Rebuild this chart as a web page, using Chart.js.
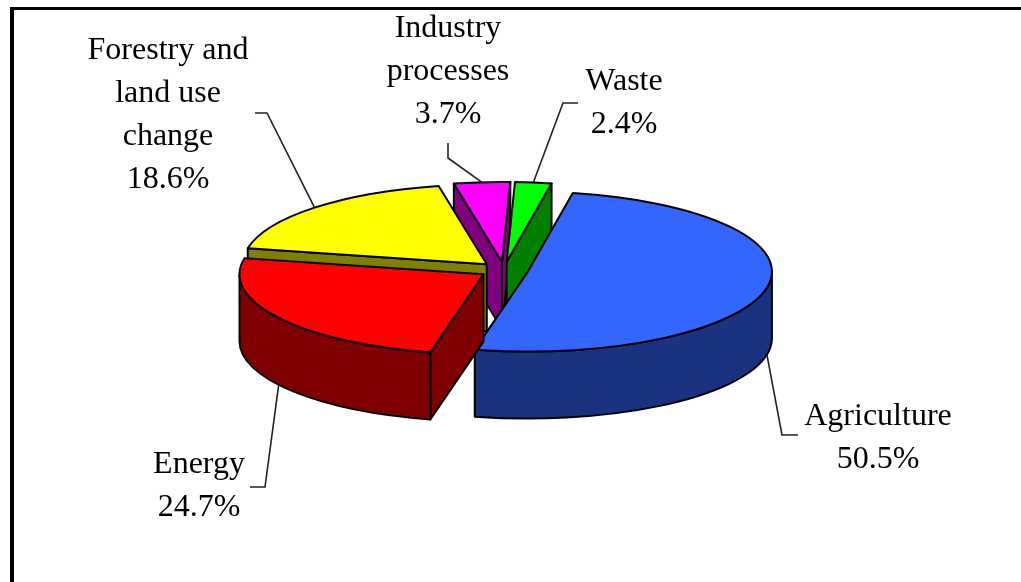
<!DOCTYPE html>
<html><head><meta charset="utf-8">
<script src="https://cdn.jsdelivr.net/npm/chart.js@4.4.0/dist/chart.umd.min.js"></script>
<style>html,body{margin:0;padding:0;background:#fff;overflow:hidden}canvas{display:block}</style>
</head><body>
<canvas id="c" width="1021" height="582"></canvas>
<script>
const categories = ['Agriculture', 'Energy', 'Forestry and land use change', 'Industry processes', 'Waste'];
const shares = [50.5, 24.7, 18.6, 3.7, 2.4];
const topColors = ['#3366FF', '#FF0000', '#FFFF00', '#FF00FF', '#00FF00'];
const sideColors = ['#1A3380', '#800000', '#808000', '#800080', '#008000'];

const PIE = { centerY: 270, squash: 80 / 244, depth: 67, explode: 0.1, rotation: 10.6 };
const LABEL_FONT = "32px 'Liberation Serif', 'Times New Roman', serif";
const LABEL_LINE = 43;
const LABEL_WRAP = 170;
const LABELS = [
  { x: 878, y: 425, leader: [[798, 435], [782, 435]] },
  { x: 199, y: 473, leader: [[250, 487], [265, 487]] },
  { x: 168, y: 59,  leader: [[255, 113], [267, 113]] },
  { x: 448, y: 37,  leader: [[448, 143], [448, 158]] },
  { x: 624, y: 90,  leader: [[578, 103], [563, 103]] }
];

function wrap(ctx, text, maxW) {
  const words = text.split(' ');
  const lines = [];
  let cur = '';
  for (const w of words) {
    const t = cur ? cur + ' ' + w : w;
    if (cur && ctx.measureText(t).width > maxW) { lines.push(cur); cur = w; }
    else cur = t;
  }
  if (cur) lines.push(cur);
  return lines;
}

const pie3d = {
  id: 'pie3d',
  beforeDatasetsDraw(chart) {
    const ctx = chart.ctx;
    const arcs = chart.getDatasetMeta(0).data;
    const s = PIE.squash, h = PIE.depth;
    const geo = arcs.map((el, i) => {
      const a1 = el.startAngle, a2 = el.endAngle, r = el.outerRadius;
      const m = (a1 + a2) / 2, d = r * PIE.explode;
      const cx = el.x + d * Math.cos(m), cy = PIE.centerY + d * s * Math.sin(m);
      return { el, i, a1, a2, r, m, cx, cy };
    });
    chart.$pie3d = geo;
    const order = geo.slice().sort((p, q) => Math.sin(p.m) - Math.sin(q.m));
    ctx.save();
    ctx.lineWidth = 2; ctx.strokeStyle = '#000'; ctx.lineJoin = 'round';
    for (const g of order) {
      const { a1, a2, r, cx, cy, i, el } = g;
      const ry = r * s;
      const pt = (a) => [cx + r * Math.cos(a), cy + ry * Math.sin(a)];
      ctx.fillStyle = sideColors[i];
      const walls = [];
      if (Math.cos(a1) < 0) walls.push(a1);
      if (Math.cos(a2) > 0) walls.push(a2);
      for (const a of walls) {
        const p = pt(a);
        ctx.beginPath();
        ctx.moveTo(cx, cy); ctx.lineTo(p[0], p[1]); ctx.lineTo(p[0], p[1] + h); ctx.lineTo(cx, cy + h);
        ctx.closePath(); ctx.fill(); ctx.stroke();
      }
      for (let k = -1; k <= 1; k++) {
        const lo = Math.max(a1, 2 * Math.PI * k), hi = Math.min(a2, 2 * Math.PI * k + Math.PI);
        if (hi <= lo) continue;
        ctx.beginPath();
        ctx.ellipse(cx, cy, r, ry, 0, lo, hi);
        ctx.ellipse(cx, cy + h, r, ry, 0, hi, lo, true);
        ctx.closePath(); ctx.fill(); ctx.stroke();
      }
      ctx.save();
      ctx.translate(cx - el.x, cy);
      ctx.scale(1, s);
      ctx.translate(0, -el.y);
      el.draw(ctx);
      ctx.restore();
      ctx.beginPath();
      ctx.moveTo(cx, cy);
      ctx.ellipse(cx, cy, r, ry, 0, a1, a2);
      ctx.closePath(); ctx.stroke();
    }
    ctx.restore();
    return false;
  },
  afterDraw(chart) {
    const ctx = chart.ctx;
    const geo = chart.$pie3d || [];
    ctx.save();
    // leader lines
    ctx.strokeStyle = '#222'; ctx.lineWidth = 1.6; ctx.lineJoin = 'miter';
    geo.forEach(g => {
      const L = LABELS[g.i];
      const ry = g.r * PIE.squash;
      let ax = g.cx + g.r * Math.cos(g.m), ay = g.cy + ry * Math.sin(g.m);
      if (Math.sin(g.m) > 0) ay += PIE.depth;
      ctx.beginPath();
      ctx.moveTo(L.leader[0][0], L.leader[0][1]);
      ctx.lineTo(L.leader[1][0], L.leader[1][1]);
      ctx.lineTo(ax, ay);
      ctx.stroke();
    });
    // labels
    ctx.fillStyle = '#000';
    ctx.font = LABEL_FONT;
    ctx.textAlign = 'center';
    ctx.textBaseline = 'alphabetic';
    categories.forEach((name, i) => {
      const L = LABELS[i];
      const lines = wrap(ctx, name, LABEL_WRAP);
      lines.push(shares[i].toFixed(1) + '%');
      lines.forEach((t, j) => ctx.fillText(t, L.x, L.y + j * LABEL_LINE));
    });
    // frame
    ctx.fillStyle = '#000';
    ctx.fillRect(10, 7, 1011, 3);
    ctx.fillRect(10, 7, 4, 575);
    ctx.restore();
  }
};

new Chart(document.getElementById('c'), {
  type: 'pie',
  data: {
    labels: categories,
    datasets: [{ data: shares, backgroundColor: topColors, borderWidth: 0, offset: 0, hoverOffset: 0 }]
  },
  options: {
    responsive: false,
    animation: false,
    events: [],
    rotation: PIE.rotation,
    layout: { padding: { left: 260, right: 273, top: 47, bottom: 47 } },
    plugins: { legend: { display: false }, tooltip: { enabled: false } }
  },
  plugins: [pie3d]
});
</script>
</body></html>
